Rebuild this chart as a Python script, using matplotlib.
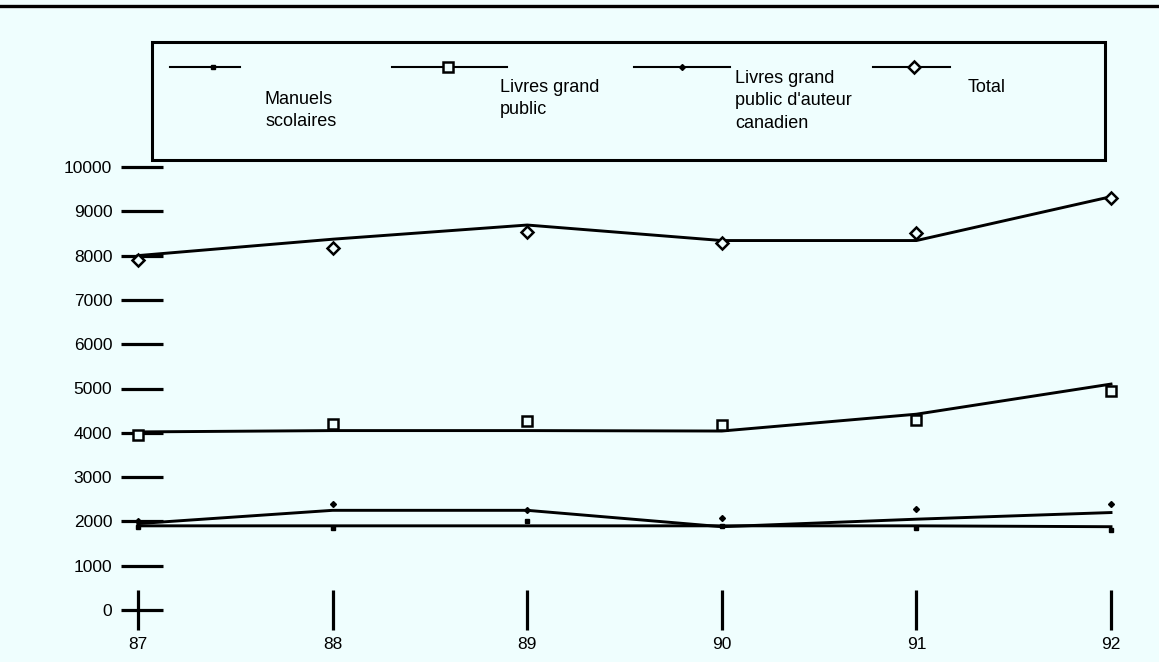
import matplotlib.pyplot as plt
from matplotlib.lines import Line2D
from matplotlib.patches import Rectangle

plt.rcParams['font.family'] = ['Liberation Sans', 'DejaVu Sans']

W, H = 1159, 662
BG = '#effefe'

years = [87, 88, 89, 90, 91, 92]
yticks = [0, 1000, 2000, 3000, 4000, 5000, 6000, 7000, 8000, 9000, 10000]

# curve values and plotted points for each series
manuels_line = [1900, 1900, 1900, 1900, 1900, 1880]
manuels_pts = [1880, 1850, 2000, 1900, 1850, 1800]
grand_public_line = [4020, 4050, 4050, 4040, 4420, 5100]
grand_public_pts = [3950, 4200, 4260, 4175, 4290, 4950]
canadien_line = [1950, 2250, 2250, 1880, 2050, 2200]
canadien_pts = [2000, 2400, 2250, 2080, 2280, 2400]
total_line = [8000, 8370, 8690, 8340, 8340, 9330]
total_pts = [7900, 8180, 8525, 8280, 8520, 9300]

legend_labels = ["Manuels\nscolaires", "Livres grand\npublic",
                 "Livres grand\npublic d'auteur", "Total"]


def fx(px):
    return px / W


def fy(py):
    return 1 - py / H


fig = plt.figure(figsize=(W / 100, H / 100), dpi=100, facecolor=BG)
ax = fig.add_axes([fx(138), fy(610), fx(1111) - fx(138), fy(167) - fy(610)])
ax.set_facecolor(BG)
ax.set_xlim(87, 92)
ax.set_ylim(0, 10000)
for s in ax.spines.values():
    s.set_visible(False)
# nudge the y tick dashes a little to the right of the first year
ax.spines['left'].set_position(('outward', -3))

ax.set_xticks(years)
ax.set_xticklabels([str(y) for y in years])
ax.set_yticks(yticks)
ax.set_yticklabels([str(v) for v in yticks])
ax.tick_params(axis='y', direction='inout', length=30, width=2.3,
               pad=6.5, labelsize=12.5, color='black')
ax.tick_params(axis='x', direction='inout', length=29, width=2.3,
               pad=5, labelsize=12.5, color='black')

lw = 2.1
ax.plot(years, manuels_line, color='black', lw=lw, clip_on=False)
ax.plot(years, manuels_pts, ls='none', marker='s', ms=3.5,
        color='black', clip_on=False)
ax.plot(years, canadien_line, color='black', lw=lw, clip_on=False)
ax.plot(years, canadien_pts, ls='none', marker='D', ms=3,
        color='black', clip_on=False)
ax.plot(years, grand_public_line, color='black', lw=lw, clip_on=False)
ax.plot(years, grand_public_pts, ls='none', marker='s', ms=7.5,
        mfc=BG, mec='black', mew=1.8, clip_on=False)
ax.plot(years, total_line, color='black', lw=lw, clip_on=False)
ax.plot(years, total_pts, ls='none', marker='D', ms=6,
        mfc=BG, mec='black', mew=1.8, clip_on=False)

# rule across the top of the page
fig.add_artist(Line2D([0, 1], [fy(6), fy(6)], color='black', lw=2.4))

# legend frame
fig.add_artist(Rectangle((fx(152), fy(160)), fx(1105) - fx(152),
                         fy(42) - fy(160), fill=False, ec='black', lw=2.2))

samples = [
    (170, 240, 213, dict(marker='s', ms=3.5, color='black')),
    (392, 507, 448, dict(marker='s', ms=7.5, mfc=BG, mec='black', mew=1.8)),
    (634, 730, 682, dict(marker='D', ms=3, color='black')),
    (873, 950, 914, dict(marker='D', ms=6, mfc=BG, mec='black', mew=1.8)),
]
for x0, x1, xm, style in samples:
    fig.add_artist(Line2D([fx(x0), fx(x1)], [fy(67), fy(67)],
                          color='black', lw=1.5))
    fig.add_artist(Line2D([fx(xm)], [fy(67)], ls='none', **style))

text_pos = [(265, 91), (500, 79), (735, 70), (968, 88)]
for (tx, ty), lab in zip(text_pos, legend_labels):
    va = 'center' if lab == "Total" else 'top'
    fig.text(fx(tx), fy(ty), lab, fontsize=13, ha='left', va=va,
             linespacing=1.4)
fig.text(fx(735), fy(123), "canadien", fontsize=13, ha='left', va='center')

fig.savefig('out.png', dpi=100, facecolor=BG)
